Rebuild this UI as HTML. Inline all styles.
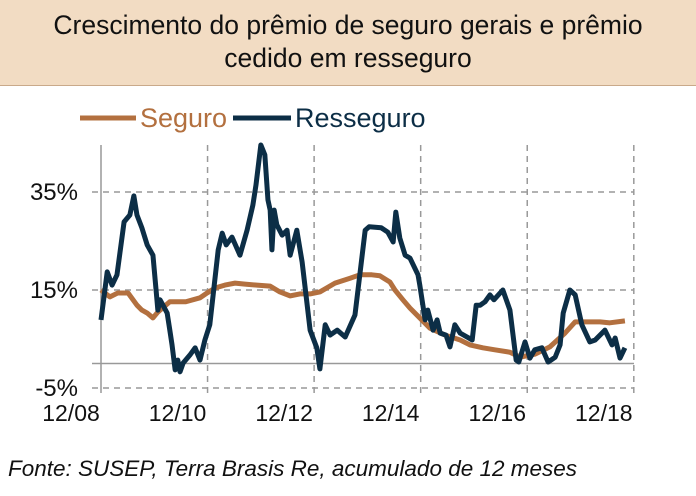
<!DOCTYPE html>
<html><head><meta charset="utf-8">
<style>
body{margin:0;background:#fff;font-family:"Liberation Sans",sans-serif;}
#wrap{position:relative;width:696px;height:496px;overflow:hidden;}
#title{position:absolute;left:0;top:0;width:696px;height:86px;background:#f2dcc3;border-bottom:1px solid #c9a98a;text-align:center;font-size:26.5px;line-height:33px;padding-top:9px;box-sizing:border-box;color:#111;white-space:nowrap;}
#foot{position:absolute;left:8px;top:456px;font-style:italic;font-size:22.5px;color:#111;white-space:nowrap;}
</style></head><body>
<div id="wrap">
<div id="title">Crescimento do prêmio de seguro gerais e prêmio<br>cedido em resseguro</div>
<svg id="chart" width="696" height="496" style="position:absolute;left:0;top:0"></svg>
<div id="foot">Fonte: SUSEP, Terra Brasis Re, acumulado de 12 meses</div>
</div>
<script>
const segMonths=[0,2.0,3.8,6.1,8.1,9.2,10.4,11.7,12.8,15.5,19.1,22.3,23.9,25.7,27.9,30.2,32.4,35.1,38.1,40.3,42.6,44.8,47.1,49.3,52.7,56.1,58.3,61.0,62.8,65.1,66.2,68.0,69.6,71.8,74.1,77.5,80.9,83.1,86.0,88.7,92.1,94.4,97.7,101.1,104.5,106.8,110.1,112.4,114.6,118.0];
const segValues=[15.0,13.6,14.4,14.4,11.9,10.9,10.3,9.3,10.5,12.6,12.6,13.4,14.4,15.4,16.0,16.4,16.2,16.0,15.8,14.6,13.8,14.2,14.2,14.6,16.4,17.4,18.1,18.1,17.9,16.6,15.0,13.0,11.3,9.3,7.2,5.8,4.8,3.8,3.2,2.8,2.3,1.3,1.9,3.4,6.2,8.5,8.5,8.5,8.3,8.7];
const resMonths=[0,1.4,2.5,3.6,5.2,6.5,7.4,8.1,9.2,10.4,11.7,12.6,12.8,13.3,14.9,15.5,16.0,16.7,17.3,17.8,18.5,20.0,21.2,22.3,23.4,24.5,26.4,27.3,28.2,29.5,31.3,32.9,34.2,34.9,36.0,36.9,37.6,38.1,38.5,39.0,39.6,40.8,41.9,42.6,44.1,45.3,47.1,48.6,49.3,50.5,51.6,53.2,55.0,57.2,59.5,60.4,63.1,64.6,65.8,66.4,67.3,68.5,69.6,71.4,71.8,73.0,73.6,74.8,75.7,76.4,77.7,78.6,79.7,80.9,83.6,84.5,85.4,86.5,87.6,88.5,90.5,92.1,93.5,94.1,95.5,96.6,97.7,99.3,100.7,102.3,103.4,104.1,105.6,106.8,108.3,110.1,111.3,113.5,115.1,115.8,116.9,118.0];
const resValues=[8.9,18.7,16.0,18.1,28.9,30.3,34.2,30.3,27.7,24.2,22.1,13.0,10.9,13.0,10.3,6.8,3.8,-1.3,0.7,-1.7,0.1,1.7,3.2,0.7,4.8,7.9,23.2,26.6,24.2,25.8,22.1,27.2,32.3,36.4,44.6,42.6,33.4,31.3,23.2,31.3,28.3,26.2,27.2,22.1,27.2,20.7,6.8,3.2,-1.1,7.9,5.8,6.8,5.4,9.9,27.2,27.9,27.7,26.8,24.8,30.9,25.6,22.1,21.5,18.1,16.0,8.9,10.9,6.8,8.9,6.2,5.8,3.4,7.9,6.2,4.8,11.9,11.9,12.6,14.0,13.0,15.0,10.9,0.7,0.3,4.4,1.1,2.8,3.2,0.3,1.3,3.8,10.3,15.0,14.0,7.9,4.4,4.8,6.8,3.8,5.2,1.1,3.2];
const yTicks=[35,15,-5];
const yTickLabels=["35%","15%","-5%"];
const xTicks=[0,24,48,72,96,120];
const xTickLabels=["12/08","12/10","12/12","12/14","12/16","12/18"];
const svg=document.getElementById('chart');const NS="http://www.w3.org/2000/svg";
const xs=m=>101+m*4.44; const ys=v=>363.5-v*4.9;
function mk(t,a){const e=document.createElementNS(NS,t);for(const k in a)e.setAttribute(k,a[k]);svg.appendChild(e);return e;}
yTicks.forEach((v,i)=>{const l=mk('line',{x1:92,x2:634,y1:ys(v),y2:ys(v),stroke:'#999','stroke-width':1.5,'stroke-dasharray':'6,5'});


const t=mk('text',{x:78,y:ys(v)+8,'text-anchor':'end','font-size':24,fill:'#111','font-family':'Liberation Sans, sans-serif'});t.textContent=yTickLabels[i];

});
xTicks.forEach((m,i)=>{if(m>0){const l=mk('line',{x1:xs(m),x2:xs(m),y1:145,y2:395,stroke:'#999','stroke-width':1.5,'stroke-dasharray':'6,5'});

}
const t=mk('text',{x:xs(m)-30,y:421,'text-anchor':'middle','font-size':23,fill:'#111','font-family':'Liberation Sans, sans-serif'});t.textContent=xTickLabels[i];

});
const ax=mk('line',{x1:101,x2:101,y1:145,y2:393,stroke:'#999','stroke-width':1.5});


const zl=mk('line',{x1:92,x2:634,y1:ys(0),y2:ys(0),stroke:'#999','stroke-width':1.5});


function series(ms,vs,col,name){const p=mk('polyline',{points:ms.map((m,i)=>xs(m)+','+ys(vs[i])).join(' '),fill:'none',stroke:col,'stroke-width':5,'stroke-linejoin':'round'});

}
series(segMonths,segValues,'#b3703f','seguro-line');
series(resMonths,resValues,'#0c2e46','resseguro-line');
const l1=mk('line',{x1:80,x2:136,y1:118,y2:118,stroke:'#b3703f','stroke-width':5});


const t1=mk('text',{x:140,y:127,'font-size':27,fill:'#b3703f','font-family':'Liberation Sans, sans-serif'});t1.textContent='Seguro';


const l2=mk('line',{x1:233,x2:291,y1:118,y2:118,stroke:'#0c2e46','stroke-width':5});


const t2=mk('text',{x:295,y:127,'font-size':27,fill:'#0c2e46','font-family':'Liberation Sans, sans-serif'});t2.textContent='Resseguro';


</script>
</body></html>
